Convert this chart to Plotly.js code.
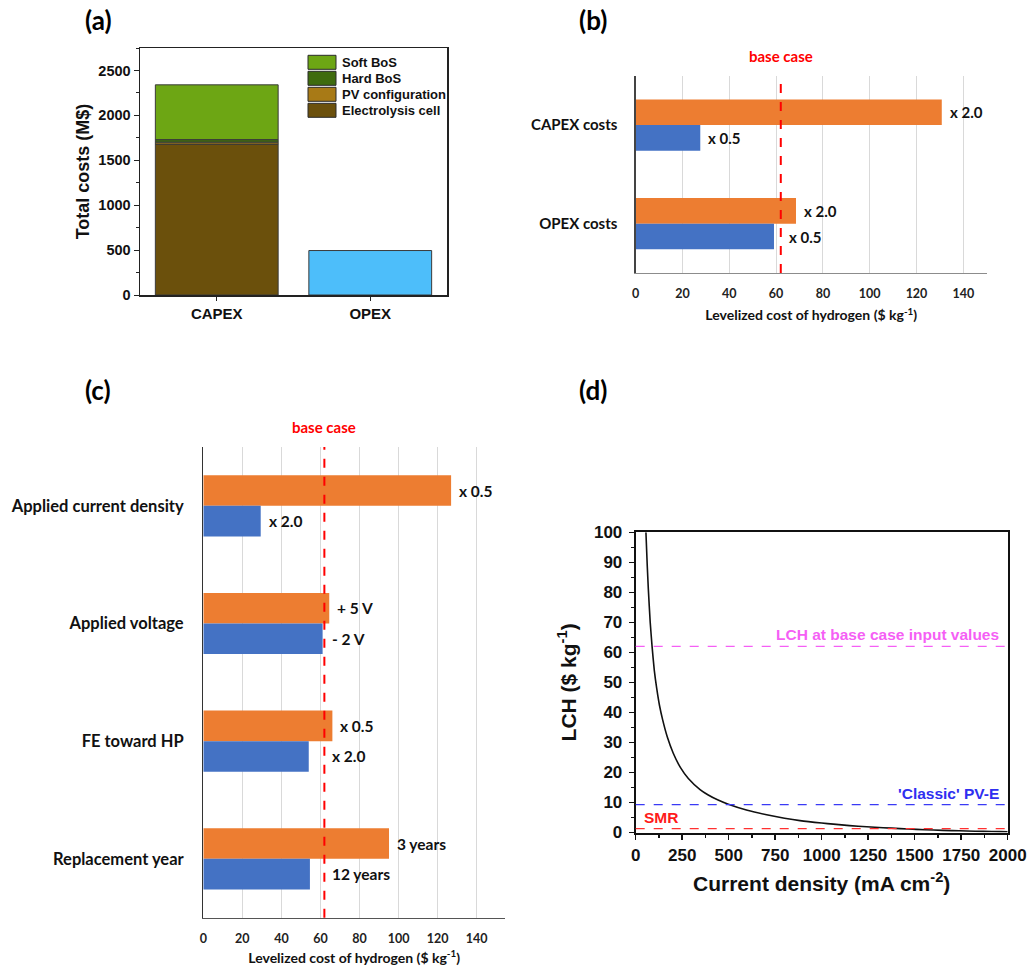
<!DOCTYPE html>
<html>
<head>
<meta charset="utf-8">
<script src="https://cdn.plot.ly/plotly-3.0.1.min.js"></script>
<style>html,body{margin:0;padding:0;background:#fff;}#chart{width:1028px;height:968px;}</style>
</head>
<body>
<div id="chart"></div>
<script>
// ---------- Panel (a): total costs ----------
const costCategories = ['CAPEX', 'OPEX'];
const capexComponents = ['Electrolysis cell', 'PV configuration', 'Hard BoS', 'Soft BoS'];
const capexValues = [1680, 22, 28, 610];
const opexValues = [495];

// ---------- Panel (b): CAPEX / OPEX sensitivity ----------
const bCategories = ['CAPEX costs', 'OPEX costs'];
const bHigh = [130.8, 68.5];
const bHighLabels = ['x 2.0', 'x 2.0'];
const bLow = [27.6, 59.1];
const bLowLabels = ['x 0.5', 'x 0.5'];
const baseCase = 62;

// ---------- Panel (c): parameter sensitivity ----------
const cCategories = ['Applied current density', 'Applied voltage', 'FE toward HP', 'Replacement year'];
const cHigh = [126.9, 64.5, 66.1, 95.1];
const cHighLabels = ['x 0.5', '+ 5 V', 'x 0.5', '3 years'];
const cLow = [29.4, 61.1, 54.0, 54.6];
const cLowLabels = ['x 2.0', '- 2 V', 'x 2.0', '12 years'];

// ---------- Panel (d): LCH vs current density ----------
const currentDensity = [55, 62, 68, 78, 88, 100, 113, 128, 145, 170, 202, 240, 283, 346, 390, 440, 498, 600, 704, 800, 883, 1000, 1063, 1150, 1242, 1330, 1421, 1510, 1600, 1700, 1779, 1870, 1959, 2000];
const lchValues     = [100, 89, 81, 70, 62, 54, 48.0, 42.3, 37.5, 31.8, 26.4, 21.7, 18.0, 14.3, 12.5, 10.9, 9.4, 7.4, 5.9, 4.75, 3.95, 3.15, 2.78, 2.3, 1.9, 1.6, 1.3, 1.05, 0.82, 0.63, 0.5, 0.38, 0.3, 0.26];
const lchBaseCase = 62;
const classicPVE = 9.3;
const smrLCH = 1.3;

// ---------- styles ----------
const ARIAL = 'Liberation Sans, Arial, sans-serif';
const CALIBRI = 'Lato, Carlito, Calibri, sans-serif';
const capexColors = ['#6b500c', '#a87a16', '#3f6b0e', '#6da614'];
const opexColor = '#4dbefa';
const orange = '#ed7d31';
const blue = '#4472c4';

const traces = [];
// (a) stacked CAPEX built with explicit bases (cumulative sums)
let cum = 0;
capexComponents.forEach((name, i) => {
  traces.push({
    type: 'bar', name: name, x: [costCategories[0]], y: [capexValues[i]], base: [cum],
    width: 0.8, marker: {color: capexColors[i], line: {color: '#3a3a3a', width: 1}},
    xaxis: 'x', yaxis: 'y', showlegend: false, hoverinfo: 'skip'
  });
  cum += capexValues[i];
});
traces.push({
  type: 'bar', name: 'OPEX', x: [costCategories[1]], y: opexValues, base: [0],
  width: 0.8, marker: {color: opexColor, line: {color: '#3a3a3a', width: 1}},
  xaxis: 'x', yaxis: 'y', showlegend: false, hoverinfo: 'skip'
});

// (b)
traces.push({type: 'bar', orientation: 'h', y: bCategories, x: bHigh, base: 0, width: 0.26, offset: 0,
  marker: {color: orange}, xaxis: 'x2', yaxis: 'y2', showlegend: false, hoverinfo: 'skip'});
traces.push({type: 'bar', orientation: 'h', y: bCategories, x: bLow, base: 0, width: 0.26, offset: -0.26,
  marker: {color: blue}, xaxis: 'x2', yaxis: 'y2', showlegend: false, hoverinfo: 'skip'});
// (c)
traces.push({type: 'bar', orientation: 'h', y: cCategories, x: cHigh, base: 0, width: 0.26, offset: 0,
  marker: {color: orange}, xaxis: 'x3', yaxis: 'y3', showlegend: false, hoverinfo: 'skip'});
traces.push({type: 'bar', orientation: 'h', y: cCategories, x: cLow, base: 0, width: 0.26, offset: -0.26,
  marker: {color: blue}, xaxis: 'x3', yaxis: 'y3', showlegend: false, hoverinfo: 'skip'});
// (d)
traces.push({type: 'scatter', mode: 'lines', x: currentDensity, y: lchValues,
  line: {color: '#111', width: 1.6, shape: 'spline', smoothing: 0.5},
  xaxis: 'x4', yaxis: 'y4', showlegend: false, hoverinfo: 'skip', cliponaxis: true});

const W = 1028, H = 968;
const dx = (a, b) => [a / W, b / W];
const dy = (top, bottom) => [1 - bottom / H, 1 - top / H];

const annotations = [];
const shapes = [];
function panelTitle(text, x, y) {
  annotations.push({text: text, xref: 'paper', yref: 'paper', x: x / W, y: 1 - y / H,
    xanchor: 'center', yanchor: 'middle', showarrow: false,
    font: {family: CALIBRI, size: 26, color: '#000', weight: 700}});
}
panelTitle('(a)', 98, 20);
panelTitle('(b)', 593, 20);
panelTitle('(c)', 98, 390);
panelTitle('(d)', 593, 390);

// legend for panel (a), top entry = last stacked component
for (let r = 0; r < capexComponents.length; r++) {
  const idx = capexComponents.length - 1 - r;
  const cy = 62.3 + 16 * r;
  shapes.push({type: 'rect', xref: 'paper', yref: 'paper', x0: 308 / W, x1: 336 / W,
    y0: 1 - (cy + 7) / H, y1: 1 - (cy - 7) / H,
    fillcolor: capexColors[idx], line: {color: '#2a2a2a', width: 1}});
  annotations.push({text: capexComponents[idx], xref: 'paper', yref: 'paper', x: 340 / W, y: 1 - cy / H,
    xanchor: 'left', yanchor: 'middle', showarrow: false,
    font: {family: ARIAL, size: 13, color: '#111', weight: 700}});
}

function labelX(v) {
  return (baseCase - v > 20) ? v : Math.max(v, baseCase);
}
function barLabels(cats, vals, labels, xa, ya, dir, size) {
  const n = cats.length;
  cats.forEach((c, i) => {
    const pos = (n - 1 - i) + dir * 0.13;
    annotations.push({text: labels[i], xref: xa, yref: ya, x: labelX(vals[i]), y: pos,
      xanchor: 'left', yanchor: 'middle', xshift: 6, showarrow: false,
      font: {family: CALIBRI, size: size, color: '#111', weight: 700}});
  });
}
barLabels(bCategories, bHigh, bHighLabels, 'x2', 'y2', 1, 15);
barLabels(bCategories, bLow, bLowLabels, 'x2', 'y2', -1, 15);
barLabels(cCategories, cHigh, cHighLabels, 'x3', 'y3', 1, 15.5);
barLabels(cCategories, cLow, cLowLabels, 'x3', 'y3', -1, 15.5);

['x2', 'x3'].forEach((xa, k) => {
  annotations.push({text: 'base case', xref: xa, yref: (k === 0 ? 'y2' : 'y3') + ' domain', x: baseCase, y: 1,
    yshift: 20, xanchor: 'center', yanchor: 'middle', showarrow: false,
    font: {family: CALIBRI, size: 15, color: '#ff0000', weight: 700}});
});

annotations.push({text: 'LCH at base case input values', xref: 'x4 domain', yref: 'y4', x: 0.983, y: lchBaseCase,
  xanchor: 'right', yanchor: 'bottom', yshift: 1, showarrow: false,
  font: {family: ARIAL, size: 15.5, color: '#f55ff5', weight: 700}});
annotations.push({text: "'Classic' PV-E", xref: 'x4 domain', yref: 'y4', x: 0.983, y: classicPVE,
  xanchor: 'right', yanchor: 'bottom', yshift: 1, showarrow: false,
  font: {family: ARIAL, size: 15.5, color: '#2f2ff0', weight: 700}});
annotations.push({text: 'SMR', xref: 'x4 domain', yref: 'y4', x: 0.018, y: smrLCH,
  xanchor: 'left', yanchor: 'bottom', yshift: 1, showarrow: false,
  font: {family: ARIAL, size: 15.5, color: '#ff1a1a', weight: 700}});

shapes.push(
  {type: 'line', xref: 'x2', yref: 'y2 domain', x0: baseCase, x1: baseCase, y0: 0, y1: 1,
    line: {color: '#ff0000', width: 2, dash: 'dash'}},
  {type: 'line', xref: 'x3', yref: 'y3 domain', x0: baseCase, x1: baseCase, y0: 0, y1: 1,
    line: {color: '#ff0000', width: 2, dash: 'dash'}},
  {type: 'line', xref: 'x4 domain', yref: 'y4', x0: 0, x1: 1, y0: lchBaseCase, y1: lchBaseCase,
    line: {color: '#f55ff5', width: 1.3, dash: 'dash'}},
  {type: 'line', xref: 'x4 domain', yref: 'y4', x0: 0, x1: 1, y0: classicPVE, y1: classicPVE,
    line: {color: '#3a3af5', width: 1.3, dash: 'dash'}},
  {type: 'line', xref: 'x4 domain', yref: 'y4', x0: 0, x1: 1, y0: smrLCH, y1: smrLCH,
    line: {color: '#ff3030', width: 1.3, dash: 'dash'}}
);

const excelTick = {family: CALIBRI, size: 12.5, color: '#222', weight: 700};
const lcohTitle = 'Levelized cost of hydrogen ($ kg<sup>-1</sup>)';

const layout = {
  width: W, height: H,
  margin: {l: 0, r: 0, t: 0, b: 0},
  paper_bgcolor: '#fff', plot_bgcolor: 'rgba(0,0,0,0)',
  barmode: 'overlay',
  showlegend: false,
  // (a)
  xaxis: {domain: dx(140, 447), anchor: 'y', type: 'category', categoryarray: costCategories,
    range: [-0.5, 1.5], showline: true, mirror: true, linecolor: '#222', linewidth: 1.5,
    ticks: 'outside', ticklen: 4, tickcolor: '#222', showgrid: false, zeroline: false,
    tickfont: {family: ARIAL, size: 15, color: '#111', weight: 700}, ticklabelstandoff: 0},
  yaxis: {domain: dy(48, 295), anchor: 'x', range: [0, 2750], dtick: 500, showline: true, mirror: true,
    linecolor: '#222', linewidth: 1.5, ticks: 'outside', ticklen: 5, tickcolor: '#222',
    minor: {dtick: 250, ticks: 'outside', ticklen: 3, tickcolor: '#222', showgrid: false},
    showgrid: false, zeroline: false,
    tickfont: {family: ARIAL, size: 14.5, color: '#111', weight: 700},
    title: {text: 'Total costs (M$)', standoff: 4, font: {family: ARIAL, size: 18, color: '#111', weight: 700}}},
  // (b)
  xaxis2: {domain: dx(635.7, 986.7), anchor: 'y2', range: [0, 150], dtick: 20, showgrid: true,
    gridcolor: '#d9d9d9', gridwidth: 1, showline: true, linecolor: '#8c8c8c', linewidth: 1.3,
    zeroline: false, ticks: '', tickfont: excelTick, ticklabelstandoff: 9,
    title: {text: lcohTitle, standoff: 10, font: {family: CALIBRI, size: 14, color: '#111', weight: 700}}},
  yaxis2: {domain: dy(75.7, 273), anchor: 'x2', type: 'category',
    categoryarray: bCategories.slice().reverse(), range: [-0.5, 1.5],
    showline: true, linecolor: '#444', linewidth: 1.3, ticks: '', showgrid: false, zeroline: false,
    tickfont: {family: CALIBRI, size: 15, color: '#111', weight: 700}, ticklabelstandoff: 14},
  // (c)
  xaxis3: {domain: dx(203.3, 505), anchor: 'y3', range: [0, 154.5], dtick: 20, showgrid: true,
    gridcolor: '#d9d9d9', gridwidth: 1, showline: true, linecolor: '#555', linewidth: 1.3,
    zeroline: false, ticks: '', tickfont: excelTick, ticklabelstandoff: 9,
    title: {text: lcohTitle, standoff: 8, font: {family: CALIBRI, size: 14, color: '#111', weight: 700}}},
  yaxis3: {domain: dy(447, 917.7), anchor: 'x3', type: 'category',
    categoryarray: cCategories.slice().reverse(), range: [-0.5, 3.5],
    showline: true, linecolor: '#333', linewidth: 1.3, ticks: '', showgrid: false, zeroline: false,
    tickfont: {family: CALIBRI, size: 16.5, color: '#111', weight: 700}, ticklabelstandoff: 15},
  // (d)
  xaxis4: {domain: dx(635.7, 1007.7), anchor: 'y4', range: [0, 2000], dtick: 250,
    showline: true, mirror: true, linecolor: '#111', linewidth: 2, ticks: 'outside', ticklen: 5,
    tickcolor: '#111', tickwidth: 1.5,
    minor: {dtick: 125, ticks: 'outside', ticklen: 3, tickcolor: '#111', showgrid: false},
    showgrid: false, zeroline: false,
    tickfont: {family: ARIAL, size: 17, color: '#111', weight: 700}, ticklabelstandoff: 1,
    title: {text: 'Current density (mA cm<sup>-2</sup>)', standoff: 12,
      font: {family: ARIAL, size: 21, color: '#111', weight: 700}}},
  yaxis4: {domain: dy(532.3, 832.5), anchor: 'x4', range: [0, 100], dtick: 10,
    showline: true, mirror: true, linecolor: '#111', linewidth: 2, ticks: 'outside', ticklen: 5,
    tickcolor: '#111', tickwidth: 1.5,
    minor: {dtick: 5, ticks: 'outside', ticklen: 3, tickcolor: '#111', showgrid: false},
    showgrid: false, zeroline: false,
    tickfont: {family: ARIAL, size: 17, color: '#111', weight: 700}, ticklabelstandoff: 3,
    title: {text: 'LCH ($ kg<sup>-1</sup>)', standoff: 12,
      font: {family: ARIAL, size: 21, color: '#111', weight: 700}}},
  annotations: annotations,
  shapes: shapes
};

Plotly.newPlot('chart', traces, layout, {staticPlot: true, displayModeBar: false});
</script>
</body>
</html>
